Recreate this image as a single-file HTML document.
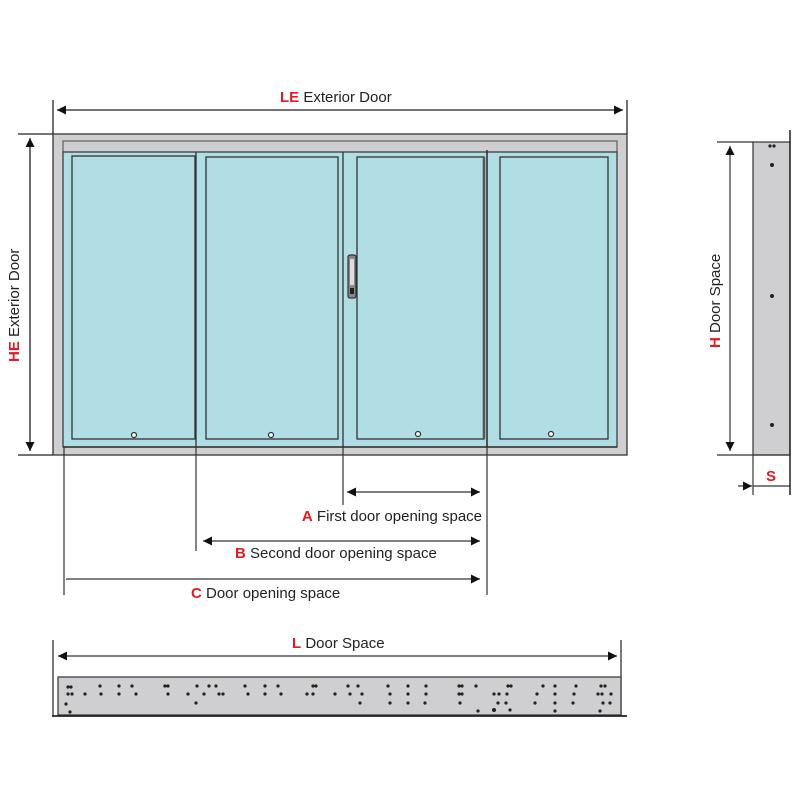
<!DOCTYPE html>
<html><head><meta charset="utf-8"><style>body{margin:0;background:#fff}svg{display:block}</style></head><body>
<svg width="800" height="800" viewBox="0 0 800 800" xmlns="http://www.w3.org/2000/svg" font-family="Liberation Sans, sans-serif">
<defs>
<marker id="a" viewBox="0 0 10 10" refX="10" refY="5" markerWidth="9" markerHeight="10" markerUnits="userSpaceOnUse" orient="auto-start-reverse"><path d="M0,0L10,5L0,10z" fill="#111"/></marker>
</defs>
<g stroke="#222" stroke-width="1.3" fill="none">
<line x1="53" y1="100" x2="53" y2="134"/><line x1="627" y1="100" x2="627" y2="134"/>
<line x1="57" y1="110" x2="623" y2="110" marker-start="url(#a)" marker-end="url(#a)"/>
<line x1="18" y1="134" x2="53" y2="134"/><line x1="18" y1="455" x2="53" y2="455"/>
<line x1="30" y1="138" x2="30" y2="451" marker-start="url(#a)" marker-end="url(#a)"/>
</g>
<rect x="53" y="134" width="574" height="321" fill="#cfcfd1" stroke="#333" stroke-width="1.3"/>
<rect x="63" y="141" width="554" height="11" fill="#cfcfd1" stroke="#444" stroke-width="1"/>
<rect x="63" y="152" width="554" height="295" fill="#b1dde4" stroke="#333" stroke-width="1.2"/>
<g stroke="#333" stroke-width="1.3" fill="#b1dde4">
<rect x="72" y="156" width="123" height="283"/>
<rect x="206" y="157" width="132" height="282"/>
<rect x="357" y="157" width="127" height="282"/>
<rect x="500" y="157" width="108" height="282"/>
<line x1="196" y1="152" x2="196" y2="447"/>
<line x1="343" y1="152" x2="343" y2="447"/>
<line x1="487" y1="150" x2="487" y2="447" stroke-width="1.6"/>
<line x1="63" y1="447" x2="617" y2="447" stroke-width="1.6"/>
</g>
<line x1="484" y1="157" x2="484" y2="439" stroke="#555" stroke-width="2.5"/>
<g fill="#fff" stroke="#333" stroke-width="1.2">
<circle cx="134" cy="435" r="2.5"/><circle cx="271" cy="435" r="2.5"/><circle cx="418" cy="434" r="2.5"/><circle cx="551" cy="434" r="2.5"/>
</g>
<rect x="348" y="255" width="8" height="43" rx="2" fill="#888" stroke="#333" stroke-width="1.2"/>
<rect x="350" y="259" width="4" height="26" fill="#ddd"/>
<rect x="350" y="288" width="4" height="6" fill="#222"/>
<g stroke="#333" stroke-width="1.2" fill="none">
<line x1="343" y1="447" x2="343" y2="505"/>
<line x1="196" y1="447" x2="196" y2="551"/>
<line x1="64" y1="447" x2="64" y2="595"/>
<line x1="487" y1="447" x2="487" y2="595"/>
<line x1="347" y1="492" x2="480" y2="492" marker-start="url(#a)" marker-end="url(#a)"/>
<line x1="203" y1="541" x2="480" y2="541" marker-start="url(#a)" marker-end="url(#a)"/>
<line x1="66" y1="579" x2="480" y2="579" marker-end="url(#a)"/>
</g>
<g font-size="15" fill="#222">
<text x="280" y="102"><tspan fill="#e01b24" font-weight="bold">LE</tspan> Exterior Door</text>
<text transform="translate(19,362) rotate(-90)"><tspan fill="#e01b24" font-weight="bold">HE</tspan> Exterior Door</text>
<text x="482" y="521" text-anchor="end"><tspan fill="#e01b24" font-weight="bold">A</tspan> First door opening space</text>
<text x="235" y="558"><tspan fill="#e01b24" font-weight="bold">B</tspan> Second door opening space</text>
<text x="191" y="598"><tspan fill="#e01b24" font-weight="bold">C</tspan> Door opening space</text>
<text x="292" y="648"><tspan fill="#e01b24" font-weight="bold">L</tspan> Door Space</text>
<text transform="translate(720,348) rotate(-90)"><tspan fill="#e01b24" font-weight="bold">H</tspan> Door Space</text>
<text x="766" y="481" font-weight="bold" fill="#e01b24">S</text>
</g>
<rect x="753" y="142" width="37" height="313" fill="#cfcfd1" stroke="#333" stroke-width="1.2"/>
<line x1="790" y1="130" x2="790" y2="495" stroke="#222" stroke-width="1.5"/>
<g stroke="#333" stroke-width="1.2" fill="none">
<line x1="717" y1="142" x2="753" y2="142"/><line x1="717" y1="455" x2="790" y2="455"/>
<line x1="730" y1="146" x2="730" y2="451" marker-start="url(#a)" marker-end="url(#a)"/>
<line x1="753" y1="455" x2="753" y2="495"/>
<line x1="753" y1="486" x2="790" y2="486"/>
<line x1="738" y1="486" x2="752" y2="486" marker-end="url(#a)"/>
</g>
<g fill="#222"><circle cx="770" cy="146" r="1.6"/><circle cx="774" cy="146" r="1.6"/><circle cx="772" cy="165" r="2"/><circle cx="772" cy="296" r="2"/><circle cx="772" cy="425" r="2"/></g>
<g stroke="#333" stroke-width="1.3" fill="none">
<line x1="53" y1="640" x2="53" y2="716"/><line x1="621" y1="640" x2="621" y2="716"/>
<line x1="58" y1="656" x2="617" y2="656" marker-start="url(#a)" marker-end="url(#a)"/>
</g>
<rect x="58" y="677" width="563" height="38" fill="#cfcfd1" stroke="#333" stroke-width="1.2"/>
<line x1="52" y1="716" x2="627" y2="716" stroke="#222" stroke-width="1.8"/>
<g fill="#222">
<circle cx="68" cy="687" r="1.6"/><circle cx="71" cy="687" r="1.6"/><circle cx="68" cy="694" r="1.6"/><circle cx="72" cy="694" r="1.6"/><circle cx="66" cy="704" r="1.6"/><circle cx="70" cy="712" r="1.6"/>
<circle cx="85" cy="694" r="1.6"/><circle cx="100" cy="686" r="1.6"/><circle cx="101" cy="694" r="1.6"/><circle cx="119" cy="686" r="1.6"/><circle cx="119" cy="694" r="1.6"/><circle cx="132" cy="686" r="1.6"/><circle cx="136" cy="694" r="1.6"/>
<circle cx="165" cy="686" r="1.6"/><circle cx="168" cy="686" r="1.6"/><circle cx="168" cy="694" r="1.6"/><circle cx="188" cy="694" r="1.6"/><circle cx="197" cy="686" r="1.6"/><circle cx="196" cy="703" r="1.6"/><circle cx="204" cy="694" r="1.6"/><circle cx="209" cy="686" r="1.6"/><circle cx="216" cy="686" r="1.6"/><circle cx="219" cy="694" r="1.6"/><circle cx="223" cy="694" r="1.6"/>
<circle cx="245" cy="686" r="1.6"/><circle cx="248" cy="694" r="1.6"/><circle cx="265" cy="686" r="1.6"/><circle cx="265" cy="694" r="1.6"/><circle cx="278" cy="686" r="1.6"/><circle cx="281" cy="694" r="1.6"/><circle cx="307" cy="694" r="1.6"/><circle cx="313" cy="686" r="1.6"/><circle cx="316" cy="686" r="1.6"/><circle cx="313" cy="694" r="1.6"/>
<circle cx="335" cy="694" r="1.6"/><circle cx="348" cy="686" r="1.6"/><circle cx="350" cy="694" r="1.6"/><circle cx="358" cy="686" r="1.6"/><circle cx="362" cy="694" r="1.6"/><circle cx="360" cy="703" r="1.6"/><circle cx="388" cy="686" r="1.6"/><circle cx="390" cy="694" r="1.6"/><circle cx="390" cy="703" r="1.6"/><circle cx="408" cy="686" r="1.6"/><circle cx="408" cy="694" r="1.6"/><circle cx="408" cy="703" r="1.6"/><circle cx="426" cy="686" r="1.6"/><circle cx="426" cy="694" r="1.6"/><circle cx="425" cy="703" r="1.6"/>
<circle cx="459" cy="686" r="1.6"/><circle cx="462" cy="686" r="1.6"/><circle cx="459" cy="694" r="1.6"/><circle cx="462" cy="694" r="1.6"/><circle cx="460" cy="703" r="1.6"/><circle cx="476" cy="686" r="1.6"/><circle cx="478" cy="711" r="1.6"/><circle cx="494" cy="694" r="1.6"/><circle cx="499" cy="694" r="1.6"/><circle cx="508" cy="686" r="1.6"/><circle cx="511" cy="686" r="1.6"/><circle cx="507" cy="694" r="1.6"/><circle cx="498" cy="703" r="1.6"/><circle cx="506" cy="703" r="1.6"/><circle cx="494" cy="710" r="2"/><circle cx="510" cy="710" r="1.6"/>
<circle cx="543" cy="686" r="1.6"/><circle cx="537" cy="694" r="1.6"/><circle cx="535" cy="703" r="1.6"/><circle cx="555" cy="686" r="1.6"/><circle cx="555" cy="694" r="1.6"/><circle cx="555" cy="703" r="1.6"/><circle cx="555" cy="711" r="1.6"/><circle cx="576" cy="686" r="1.6"/><circle cx="574" cy="694" r="1.6"/><circle cx="573" cy="703" r="1.6"/><circle cx="601" cy="686" r="1.6"/><circle cx="605" cy="686" r="1.6"/><circle cx="598" cy="694" r="1.6"/><circle cx="602" cy="694" r="1.6"/><circle cx="611" cy="694" r="1.6"/><circle cx="603" cy="703" r="1.6"/><circle cx="610" cy="703" r="1.6"/><circle cx="600" cy="711" r="1.6"/>
</g>
</svg>
</body></html>
